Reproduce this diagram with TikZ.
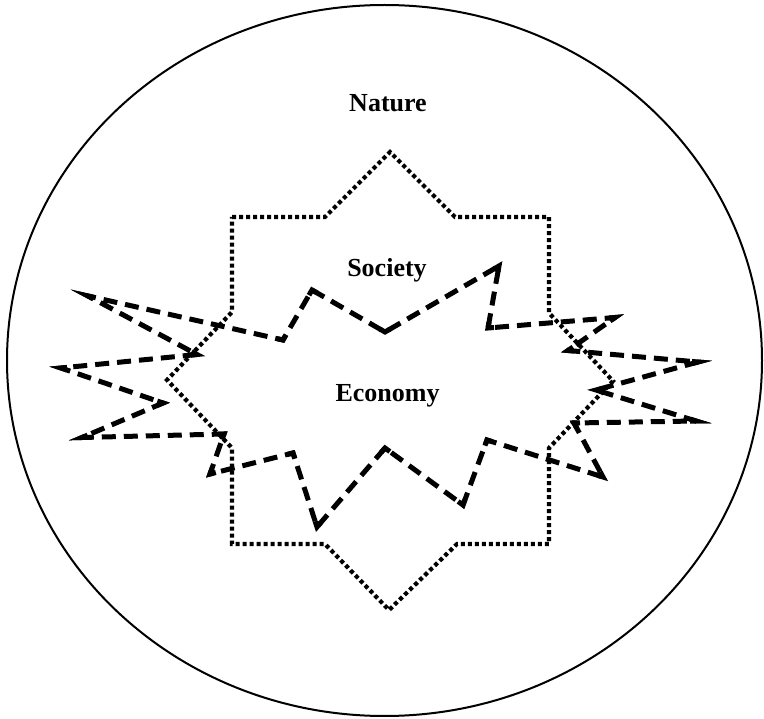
\documentclass[tikz,border=0pt]{standalone}
\usepackage{fontspec}
\setmainfont{Liberation Serif}
\usetikzlibrary{calc}
\begin{document}
\begin{tikzpicture}[x=1pt,y=-1pt,
 lbl/.style={font=\fontsize{26}{30}\selectfont\bfseries, anchor=base, inner sep=0pt},
 dotline/.style={line width=4.2pt, dash pattern=on 4pt off 3pt},
 dashline/.style={line width=5pt, dash pattern=on 14pt off 8pt, line join=miter},
 cornerbit/.style={line width=5pt, line join=miter}]
\useasboundingbox (0,0) rectangle (764,719);
% Nature
\draw[line width=2pt] (384.5,360.5) ellipse [x radius=377.5pt, y radius=355.5pt];
% Society (dotted)
\draw[dotline] (232,217) -- (325,217) -- (390,152) -- (455,217) -- (549,217)
  -- (549,313) -- (613,381) -- (549,448) -- (549,544) -- (457,544)
  -- (389,610) -- (325,544) -- (232,544) -- (232,448) -- (167,380)
  -- (232,312) -- cycle;
% Economy (dashed)
\coordinate (e1) at (312,290);
\coordinate (e2) at (385,332);
\coordinate (e3) at (499,266);
\coordinate (e4) at (488,328);
\coordinate (e5) at (615,317.5);
\coordinate (e6) at (568,350.5);
\coordinate (e7) at (698,362);
\coordinate (e8) at (596,390);
\coordinate (e9) at (696,421);
\coordinate (e10) at (574,423);
\coordinate (e11) at (603,477);
\coordinate (e12) at (487,440);
\coordinate (e13) at (463,505);
\coordinate (e14) at (385,448);
\coordinate (e15) at (317,527);
\coordinate (e16) at (293,453);
\coordinate (e17) at (210,474);
\coordinate (e18) at (224,434);
\coordinate (e19) at (82,437.5);
\coordinate (e20) at (163,403);
\coordinate (e21) at (61,368);
\coordinate (e22) at (197,354.5);
\coordinate (e23) at (88,296);
\coordinate (e24) at (283,340);
\draw[dashline] (e1) -- (e2) -- (e3) -- (e4) -- (e5) -- (e6) -- (e7) -- (e8)
  -- (e9) -- (e10) -- (e11) -- (e12) -- (e13) -- (e14) -- (e15) -- (e16)
  -- (e17) -- (e18) -- (e19) -- (e20) -- (e21) -- (e22) -- (e23) -- (e24) -- cycle;
\foreach \p/\v/\n in {e24/e1/e2, e1/e2/e3, e2/e3/e4, e3/e4/e5, e4/e5/e6, e5/e6/e7,
  e6/e7/e8, e7/e8/e9, e8/e9/e10, e9/e10/e11, e10/e11/e12, e11/e12/e13, e12/e13/e14,
  e13/e14/e15, e14/e15/e16, e15/e16/e17, e16/e17/e18, e17/e18/e19, e18/e19/e20,
  e19/e20/e21, e20/e21/e22, e21/e22/e23, e22/e23/e24, e23/e24/e1}
  \draw[cornerbit] ($(\v)!6pt!(\p)$) -- (\v) -- ($(\v)!6pt!(\n)$);
% Labels
\node[lbl] (nature) at (388,112) {Nature};
\node[lbl] (society) at (387,277) {Society};
\node[lbl] (economy) at (387.5,402) {Economy};
\end{tikzpicture}
\end{document}
